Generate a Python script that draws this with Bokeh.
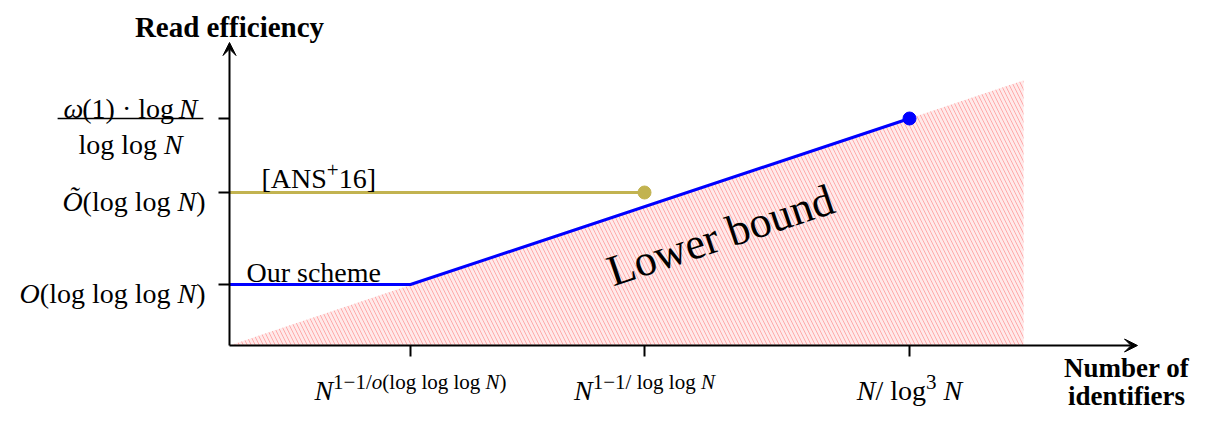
from bokeh.plotting import figure
from bokeh.models import Range1d, Arrow, VeeHead
from bokeh.core.properties import value
from bokeh.embed import file_html
from bokeh.resources import INLINE
import math

# ---- chart values (abstract units) ----
x_ticks = [18.1, 41.5, 68.0]
y_ticks = [6.1, 15.3, 22.7]
ours_x = [0.0, 18.1, 68.0]
ours_y = [6.1, 6.1, 22.7]
ans_x = [0.0, 41.5]
ans_y = [15.3, 15.3]
bound_x = [0.0, 79.4, 79.4]
bound_y = [0.0, 26.5, 0.0]
x_axis_end = 90.8
y_axis_end = 30.3

FONT = "Liberation Serif"
BLUE = "#0000ff"
OLIVE = "#c2b350"

W, H = 1213, 414
p = figure(width=W, height=H, output_backend="svg", toolbar_location=None,
           x_axis_type=None, y_axis_type=None, min_border=0,
           x_range=Range1d(-22.9, 98.4), y_range=Range1d(-6.9, 34.5))
p.grid.visible = False
p.outline_line_color = None
p.background_fill_color = "white"

# lower bound region
p.patch(bound_x, bound_y, fill_color="#ffeaea", line_color=None,
        hatch_pattern="\\", hatch_color="#ffaaaa", hatch_scale=8, hatch_weight=1)

# lines
p.line(ans_x, ans_y, line_color=OLIVE, line_width=3)
p.line(ours_x, ours_y, line_color=BLUE, line_width=3)
p.scatter([ans_x[-1]], [ans_y[-1]], size=13, color=OLIVE)
p.scatter([ours_x[-1]], [ours_y[-1]], size=13, color=BLUE)

# axes
p.add_layout(Arrow(end=VeeHead(size=13, fill_color="black", line_color="black"),
                   x_start=0, y_start=0, x_end=x_axis_end, y_end=0,
                   line_width=2, line_color="black"))
p.add_layout(Arrow(end=VeeHead(size=13, fill_color="black", line_color="black"),
                   x_start=0, y_start=0, x_end=0, y_end=y_axis_end,
                   line_width=2, line_color="black"))
p.segment(x0=x_ticks, y0=[0] * 3, x1=x_ticks, y1=[-1.1] * 3, line_color="black", line_width=2)
p.segment(x0=[0] * 3, y0=y_ticks, x1=[-1.1] * 3, y1=y_ticks, line_color="black", line_width=2)

# ---- text helpers (Times-compatible metrics, per 1000 em) ----
REG = {' ': 250, '(': 333, ')': 333, '[': 333, ']': 333, '+': 564, '\u2212': 564, '/': 278,
       '\u00b7': 250, 'l': 278, 'o': 500, 'g': 500, 'A': 722, 'N': 722, 'S': 556, 'O': 722,
       'u': 500, 'r': 333, 's': 389, 'c': 444, 'h': 500, 'e': 444, 'm': 778}
ITA = {'N': 667, 'O': 722, '\u00d5': 722, 'o': 500, '\u03c9': 667}


def measure(t, style, size):
    tab = ITA if style == "italic" else REG
    return sum(tab.get(ch, REG.get(ch, 500)) for ch in t) * size / 1000.0


def rich(pieces, x, y, align="left", dx=0.0, dy=0.0):
    widths = [measure(t, st, sz) for (t, st, sz, rise) in pieces]
    total = sum(widths)
    cur = dx if align == "left" else (dx - total if align == "right" else dx - total / 2)
    for (t, st, sz, rise), w in zip(pieces, widths):
        p.text(x=[x], y=[y], text=[t], x_offset=cur, y_offset=dy - rise,
               text_align="left", text_baseline="alphabetic", text_color="black",
               text_font=value(FONT), text_font_size=f"{sz}px", text_font_style=st)
        cur += w
    return total


S = 28
SS = 21
R = 9

# axis titles
p.text(x=[0], y=[y_axis_end], text=["Read efficiency"], y_offset=-16,
       text_align="center", text_baseline="alphabetic", text_font=value(FONT),
       text_font_size="29px", text_font_style="bold", text_color="black")
p.text(x=[x_axis_end], y=[0], text=["Number of"], x_offset=-11, y_offset=22,
       text_align="center", text_baseline="alphabetic", text_font=value(FONT),
       text_font_size="27px", text_font_style="bold", text_color="black")
p.text(x=[x_axis_end], y=[0], text=["identifiers"], x_offset=-11, y_offset=50,
       text_align="center", text_baseline="alphabetic", text_font=value(FONT),
       text_font_size="27px", text_font_style="bold", text_color="black")

# y tick labels
FRAC_X = -9.9
num_w = rich([("\u03c9", "italic", S, 0), ("(1) \u00b7 log ", "normal", S, 0), ("N", "italic", S, 0)],
             FRAC_X, y_ticks[2], "center", dy=-10)
rich([("log log ", "normal", S, 0), ("N", "italic", S, 0)], FRAC_X, y_ticks[2], "center", dy=26)
bar_half = (num_w / 2 + 6) / 10.0
p.segment(x0=[FRAC_X - bar_half], y0=[y_ticks[2]], x1=[FRAC_X + bar_half], y1=[y_ticks[2]],
          line_color="black", line_width=1.5)
rich([("\u00d5", "italic", S, 0), ("(log log ", "normal", S, 0), ("N", "italic", S, 0), (")", "normal", S, 0)],
     0, y_ticks[1], "right", dx=-24, dy=9)
rich([("O", "italic", S, 0), ("(log log log ", "normal", S, 0), ("N", "italic", S, 0), (")", "normal", S, 0)],
     0, y_ticks[0], "right", dx=-24, dy=9)

# x tick labels
rich([("N", "italic", S, 0), ("1\u22121/", "normal", SS, R), ("o", "italic", SS, R),
      ("(log log log ", "normal", SS, R), ("N", "italic", SS, R), (")", "normal", SS, R)],
     x_ticks[0], 0, "center", dy=45)
rich([("N", "italic", S, 0), ("1\u22121/ log log ", "normal", SS, R), ("N", "italic", SS, R)],
     x_ticks[1], 0, "center", dy=45)
rich([("N", "italic", S, 0), ("/ log", "normal", S, 0), ("3", "normal", SS, R),
      (" ", "normal", S, 0), ("N", "italic", S, 0)],
     x_ticks[2], 0, "center", dy=45)

# series labels
rich([("[ANS", "normal", S, 0), ("+", "normal", SS, R), ("16]", "normal", S, 0)],
     0, ans_y[0], "left", dx=32, dy=-14)
rich([("Our scheme", "normal", S, 0)], 0, ours_y[0], "left", dx=17, dy=-12)

# region label
ang = math.atan2(bound_y[1] - bound_y[0], bound_x[1] - bound_x[0])
p.text(x=[49.1], y=[11.0], text=["Lower bound"], angle=ang, text_align="center",
       text_baseline="middle", text_font=value(FONT), text_font_size="44px", text_color="black")

open("out.html", "w").write(file_html(p, INLINE))
